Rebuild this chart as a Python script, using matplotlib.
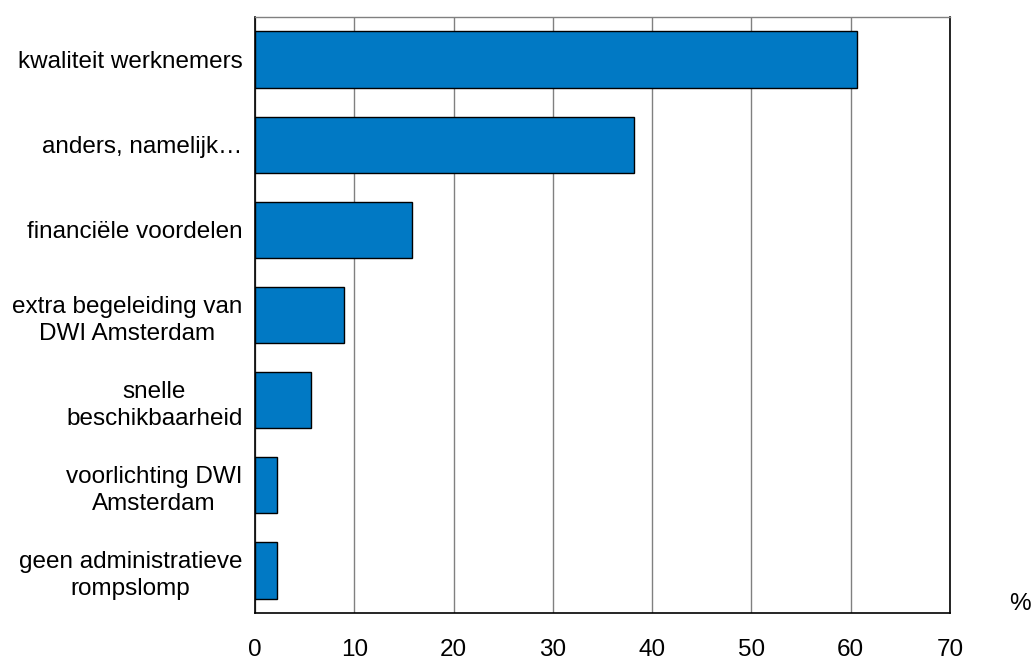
import numpy as np
import matplotlib.pyplot as plt

plt.rcParams['font.family'] = ['Liberation Sans', 'DejaVu Sans']

# categories top to bottom
categories = ['kwaliteit werknemers', 'anders, namelijk…', 'financiële voordelen',
              'extra begeleiding van\nDWI Amsterdam', 'snelle\nbeschikbaarheid',
              'voorlichting DWI\nAmsterdam', 'geen administratieve\nrompslomp']
values = [60.6, 38.2, 15.8, 9.0, 5.6, 2.2, 2.2]
xticks = [0, 10, 20, 30, 40, 50, 60, 70]

fig = plt.figure(figsize=(10.34, 6.62), dpi=100)
ax = fig.add_axes([255/1034, 1 - 613/662, 695/1034, 596/662])

y = np.arange(len(categories))
ax.barh(y, values, height=0.66, color='#0179C4', edgecolor='black', linewidth=1, zorder=3)

ax.set_xlim(0, 70)
ax.set_ylim(len(categories) - 0.5, -0.5)
ax.set_xticks(xticks)
ax.set_xticklabels([str(t) for t in xticks], fontsize=17.5)
ax.set_yticks(y)
ax.set_yticklabels(categories, fontsize=17.5)
for lbl in ax.get_yticklabels():
    lbl.set_multialignment('center')
    lbl.set_linespacing(1.3)
ax.tick_params(axis='x', length=0, pad=19)
ax.tick_params(axis='y', length=0, pad=9)

# vertical gridlines
ax.grid(axis='x', color='#808080', linewidth=1, zorder=0)
ax.set_axisbelow(True)

for side in ['left', 'bottom', 'right']:
    ax.spines[side].set_color('black')
    ax.spines[side].set_linewidth(1.2)
ax.spines['top'].set_color('#808080')
ax.spines['top'].set_linewidth(1)

ax.text(1.1, 0.015, '%', transform=ax.transAxes, fontsize=17.5, ha='center', va='center')

fig.savefig('out.png', dpi=100)
